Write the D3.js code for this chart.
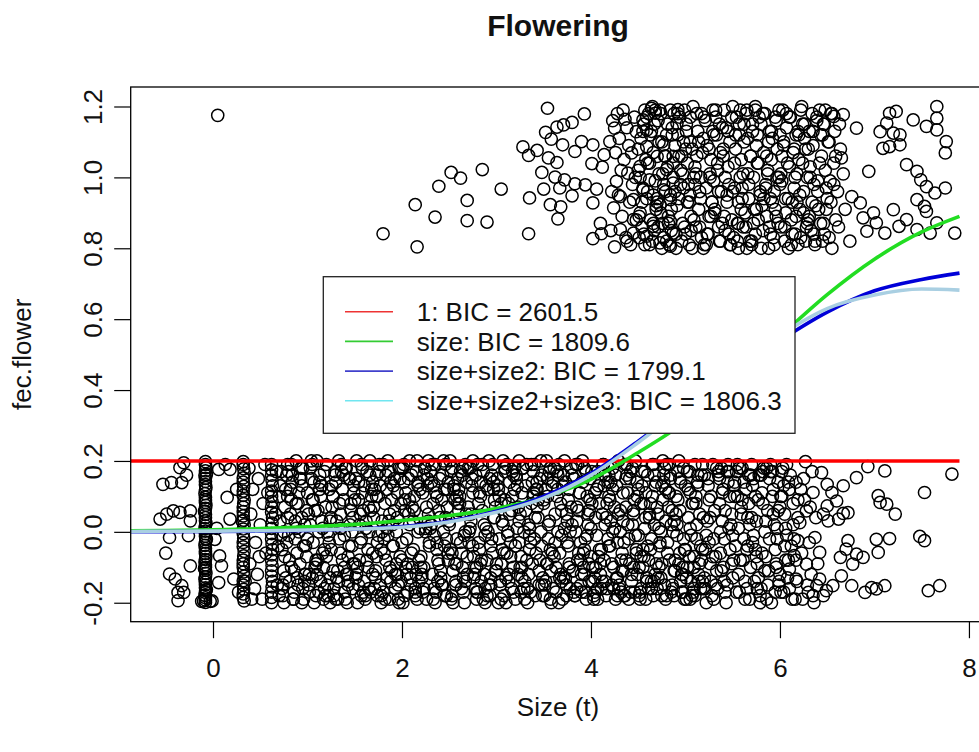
<!DOCTYPE html>
<html><head><meta charset="utf-8">
<script src="https://cdn.jsdelivr.net/npm/d3@7"></script>
<style>
body{margin:0;background:#fff;}
svg{display:block;font-family:"Liberation Sans",Arial,Helvetica,sans-serif;}
</style>
</head><body>
<svg id="chart" width="979" height="752"></svg>
<script>
// ---------------- DATA ----------------
const chartTitle = "Flowering";
const xLabel = "Size (t)";
const yLabel = "fec.flower";
const xTicks = [0, 2, 4, 6, 8];
const yTicks = [-0.2, 0.0, 0.2, 0.4, 0.6, 0.8, 1.0, 1.2];

const legendLabels = ["1: BIC = 2601.5", "size: BIC = 1809.6", "size+size2: BIC = 1799.1", "size+size2+size3: BIC = 1806.3"];

// fitted curves
const sizeGrid = [-1, -0.5, 0, 0.5, 1, 1.5, 2, 2.5, 3, 3.5, 4, 4.5, 5, 5.5, 6, 6.5, 7, 7.5, 7.9];
const fitIntercept = [0.2, 0.2, 0.2, 0.2, 0.2, 0.2, 0.2, 0.2, 0.2, 0.2, 0.2, 0.2, 0.2, 0.2, 0.2, 0.2, 0.2, 0.2, 0.2];
const fitSize = [0.003, 0.004, 0.006, 0.009, 0.014, 0.021, 0.032, 0.046, 0.066, 0.098, 0.148, 0.224, 0.311, 0.427, 0.551, 0.669, 0.769, 0.846, 0.89];
const fitSize2 = [0.0003, 0.0006, 0.001, 0.002, 0.004, 0.008, 0.015, 0.03, 0.058, 0.1, 0.165, 0.256, 0.355, 0.45, 0.54, 0.62, 0.68, 0.712, 0.73];
const fitSize3 = [0.001, 0.0015, 0.002, 0.003, 0.005, 0.008, 0.013, 0.028, 0.055, 0.095, 0.16, 0.252, 0.355, 0.46, 0.555, 0.63, 0.668, 0.685, 0.682];

// observations with fec.flower jittered around 0 : [size, fec.flower]
const notFlowered = [
[-0.31,0.195],[-0.35,0.181],[-0.53,0.134],[-0.44,0.139],[-0.33,0.139],[-0.56,0.036],[-0.49,0.05],[-0.42,0.059],[-0.35,0.055],[-0.24,0.059],[-0.24,0.031],[-0.46,-0.016],[-0.26,-0.011],[-0.24,-0.096],[-0.46,-0.119],[-0.4,-0.133],[-0.33,-0.152],[-0.31,-0.171],[-0.37,-0.194],[-0.37,-0.171],[-0.28,0.16],[-0.5,-0.06],
[-0.08,0.19],[-0.08,0.172],[-0.08,0.151],[-0.08,0.133],[-0.08,0.118],[-0.08,0.097],[-0.08,0.083],[-0.08,0.066],[-0.08,0.049],[-0.08,0.031],[-0.08,0.017],[-0.08,0.002],[-0.08,-0.012],[-0.08,-0.029],[-0.08,-0.047],[-0.08,-0.061],[-0.08,-0.078],[-0.08,-0.093],[-0.08,-0.108],[-0.08,-0.127],[-0.08,-0.142],[-0.08,-0.158],[-0.08,-0.171],[-0.08,-0.186],[-0.08,-0.199],[-0.07,0.162],[-0.09,0.058],[-0.07,-0.021],[-0.09,-0.104],[-0.07,-0.163],[-0.12,-0.196],[-0.03,-0.196],[-0.1,-0.195],[-0.01,-0.195],
[-0.08,0.198],[-0.075,0.181],[-0.085,0.16],[-0.08,0.142],[-0.075,0.125],[-0.085,0.108],[-0.08,0.09],[-0.075,0.075],[-0.085,0.058],[-0.08,0.04],[-0.075,0.024],[-0.085,0.009],[-0.08,-0.005],[-0.075,-0.02],[-0.085,-0.038],[-0.08,-0.054],[-0.075,-0.069],[-0.085,-0.085],[-0.08,-0.1],[-0.075,-0.117],[-0.085,-0.134],[-0.08,-0.149],[-0.075,-0.164],[-0.085,-0.179],[-0.08,-0.192],
[0.06,0.176],[0.15,0.097],[0.02,-0.021],[0.07,-0.068],[0.18,0.036],[0.22,-0.133],[0.04,0.01],[0.18,0.176],[0.13,0.19],[0.09,-0.096],[0.06,-0.143],[0.25,0.12],[0.27,-0.17],
[0.32,0.19],[0.33,0.165],[0.32,0.14],[0.32,0.115],[0.33,0.09],[0.32,0.07],[0.32,0.045],[0.33,0.02],[0.32,-0.005],[0.32,-0.03],[0.33,-0.055],[0.32,-0.08],[0.32,-0.1],[0.33,-0.125],[0.32,-0.15],[0.32,-0.175],[0.33,-0.195],[0.31,0.03],[0.34,-0.14],
[0.32,0.198],[0.325,0.178],[0.32,0.152],[0.325,0.128],[0.32,0.103],[0.325,0.08],[0.32,0.057],[0.325,0.033],[0.32,0.008],[0.325,-0.018],[0.32,-0.042],[0.325,-0.068],[0.32,-0.09],[0.325,-0.113],[0.32,-0.138],[0.325,-0.162],[0.32,-0.185],
[0.38,0.18],[0.42,0.12],[0.4,0.05],[0.45,-0.03],[0.39,-0.09],[0.44,-0.16],[0.48,0.15],[0.5,0.02],[0.47,-0.12],[0.53,0.08],[0.52,-0.19],[0.55,0.19],[0.56,-0.06],[0.41,-0.19],[0.58,0.11],[0.49,-0.07],
[0.62,0.19],[0.62,0.16],[0.63,0.13],[0.62,0.1],[0.62,0.07],[0.63,0.04],[0.62,0.01],[0.62,-0.02],[0.63,-0.05],[0.62,-0.08],[0.62,-0.11],[0.63,-0.14],[0.62,-0.17],[0.62,-0.2],[0.66,0.05],[0.68,-0.15],[0.67,0.17],[0.69,-0.04],
[0.62,0.175],[0.625,0.145],[0.62,0.115],[0.625,0.085],[0.62,0.055],[0.625,0.025],[0.62,-0.005],[0.625,-0.035],[0.62,-0.065],[0.625,-0.095],[0.62,-0.125],[0.625,-0.155],[0.62,-0.185],
[0.70,-0.18],[0.77,0.12],[0.73,-0.05],[0.79,0.19],[0.75,-0.11],[0.71,0.03],[0.78,0.16],[0.74,-0.15],[0.76,0.07],[0.72,-0.01],[0.75,-0.2],[0.79,0.1],
[0.84,0.14],[0.81,-0.08],[0.88,0.2],[0.86,-0.17],[0.82,0.05],[0.89,-0.13],[0.83,0.09],[0.87,-0.02],[0.80,0.17],[0.85,-0.19],[0.88,0.01],[0.83,-0.1],
[0.98,-0.04],[0.93,0.18],[0.95,-0.16],[0.90,0.08],[0.97,-0.12],[0.94,0.13],[0.99,-0.07],[0.91,0.0],[0.96,-0.19],[0.92,0.15],[0.94,0.04],[0.97,-0.14],
[1.00,0.11],[1.07,-0.2],[1.03,0.02],[1.09,-0.09],[1.05,0.19],[1.01,-0.15],[1.08,0.06],[1.04,0.15],[1.06,-0.03],[1.02,-0.12],[1.05,0.09],[1.09,-0.18],
[1.14,-0.14],[1.11,0.06],[1.18,0.17],[1.16,-0.06],[1.12,0.0],[1.19,-0.18],[1.13,0.12],[1.17,-0.1],[1.10,0.2],[1.15,0.03],[1.18,-0.16],[1.13,0.14],
[1.28,-0.18],[1.23,0.12],[1.25,-0.05],[1.20,0.19],[1.27,-0.11],[1.24,0.03],[1.29,0.16],[1.21,-0.15],[1.26,0.07],[1.22,-0.01],[1.24,-0.2],[1.27,0.1],
[1.30,0.14],[1.37,-0.08],[1.33,0.2],[1.39,-0.17],[1.35,0.05],[1.31,-0.13],[1.38,0.09],[1.34,-0.02],[1.36,0.17],[1.32,-0.19],[1.35,0.01],[1.39,-0.1],
[1.44,-0.04],[1.41,0.18],[1.48,-0.16],[1.46,0.08],[1.42,-0.12],[1.49,0.13],[1.43,-0.07],[1.47,0.0],[1.40,-0.19],[1.45,0.15],[1.48,0.04],[1.43,-0.14],
[1.58,0.11],[1.53,-0.2],[1.55,0.02],[1.50,-0.09],[1.57,0.19],[1.54,-0.15],[1.59,0.06],[1.51,0.15],[1.56,-0.03],[1.52,-0.12],[1.54,0.09],[1.57,-0.18],
[1.60,-0.14],[1.67,0.06],[1.63,0.17],[1.69,-0.06],[1.65,0.0],[1.61,-0.18],[1.68,0.12],[1.64,-0.1],[1.66,0.2],[1.62,0.03],[1.65,-0.16],[1.69,0.14],
[1.74,-0.18],[1.71,0.12],[1.78,-0.05],[1.76,0.19],[1.72,-0.11],[1.79,0.03],[1.73,0.16],[1.77,-0.15],[1.70,0.07],[1.75,-0.01],[1.78,-0.2],[1.73,0.1],
[1.88,0.14],[1.83,-0.08],[1.85,0.2],[1.80,-0.17],[1.87,0.05],[1.84,-0.13],[1.89,0.09],[1.81,-0.02],[1.86,0.17],[1.82,-0.19],[1.84,0.01],[1.87,-0.1],
[1.90,-0.04],[1.97,0.18],[1.93,-0.16],[1.99,0.08],[1.95,-0.12],[1.91,0.13],[1.98,-0.07],[1.94,0.0],[1.96,-0.19],[1.92,0.15],[1.95,0.04],[1.99,-0.14],
[2.04,0.11],[2.01,-0.2],[2.08,0.02],[2.06,-0.09],[2.02,0.19],[2.09,-0.15],[2.03,0.06],[2.07,0.15],[2.00,-0.03],[2.05,-0.12],[2.08,0.09],[2.03,-0.18],
[2.18,-0.14],[2.13,0.06],[2.15,0.17],[2.10,-0.06],[2.17,0.0],[2.14,-0.18],[2.19,0.12],[2.11,-0.1],[2.16,0.2],[2.12,0.03],[2.14,-0.16],[2.17,0.14],
[2.24,0.18],[2.21,-0.12],[2.28,0.05],[2.26,-0.19],[2.22,0.11],[2.29,-0.03],[2.23,-0.16],[2.27,0.15],[2.20,-0.07],[2.25,0.01],[2.28,0.2],[2.23,-0.1],
[2.38,-0.14],[2.33,0.08],[2.35,-0.2],[2.30,0.17],[2.37,-0.05],[2.34,0.13],[2.39,-0.09],[2.31,0.02],[2.36,-0.17],[2.32,0.19],[2.34,-0.01],[2.37,0.1],
[2.40,0.04],[2.47,-0.18],[2.43,0.16],[2.49,-0.08],[2.45,0.12],[2.41,-0.13],[2.48,0.07],[2.44,0.0],[2.46,0.19],[2.42,-0.15],[2.45,-0.04],[2.49,0.14],
[2.54,-0.11],[2.51,0.2],[2.58,-0.02],[2.56,0.09],[2.52,-0.19],[2.59,0.15],[2.53,-0.06],[2.57,-0.15],[2.50,0.03],[2.55,0.12],[2.58,-0.09],[2.53,0.18],
[2.68,0.14],[2.63,-0.06],[2.65,-0.17],[2.60,0.06],[2.67,0.0],[2.64,0.18],[2.69,-0.12],[2.61,0.1],[2.66,-0.2],[2.62,-0.03],[2.64,0.16],[2.67,-0.14],
[2.70,0.18],[2.77,-0.12],[2.73,0.05],[2.79,-0.19],[2.75,0.11],[2.71,-0.03],[2.78,-0.16],[2.74,0.15],[2.76,-0.07],[2.72,0.01],[2.75,0.2],[2.79,-0.1],
[2.84,-0.14],[2.81,0.08],[2.88,-0.2],[2.86,0.17],[2.82,-0.05],[2.89,0.13],[2.83,-0.09],[2.87,0.02],[2.80,-0.17],[2.85,0.19],[2.88,-0.01],[2.83,0.1],
[2.98,0.04],[2.93,-0.18],[2.95,0.16],[2.90,-0.08],[2.97,0.12],[2.94,-0.13],[2.99,0.07],[2.91,0.0],[2.96,0.19],[2.92,-0.15],[2.94,-0.04],[2.97,0.14],
[3.00,-0.11],[3.07,0.2],[3.03,-0.02],[3.09,0.09],[3.05,-0.19],[3.01,0.15],[3.08,-0.06],[3.04,-0.15],[3.06,0.03],[3.02,0.12],[3.05,-0.09],[3.09,0.18],
[3.14,0.14],[3.11,-0.06],[3.18,-0.17],[3.16,0.06],[3.12,0.0],[3.19,0.18],[3.13,-0.12],[3.17,0.1],[3.10,-0.2],[3.15,-0.03],[3.18,0.16],[3.13,-0.14],
[3.28,0.18],[3.23,-0.12],[3.25,0.05],[3.20,-0.19],[3.27,0.11],[3.24,-0.03],[3.29,-0.16],[3.21,0.15],[3.26,-0.07],[3.22,0.01],[3.24,0.2],[3.27,-0.1],
[3.30,-0.14],[3.37,0.08],[3.33,-0.2],[3.39,0.17],[3.35,-0.05],[3.31,0.13],[3.38,-0.09],[3.34,0.02],[3.36,-0.17],[3.32,0.19],[3.35,-0.01],[3.39,0.1],
[3.44,0.04],[3.41,-0.18],[3.48,0.16],[3.46,-0.08],[3.42,0.12],[3.49,-0.13],[3.43,0.07],[3.47,0.0],[3.40,0.19],[3.45,-0.15],[3.48,-0.04],[3.43,0.14],
[3.58,-0.11],[3.53,0.2],[3.55,-0.02],[3.50,0.09],[3.57,-0.19],[3.54,0.15],[3.59,-0.06],[3.51,-0.15],[3.56,0.03],[3.52,0.12],[3.54,-0.09],[3.57,0.18],
[3.60,0.14],[3.67,-0.06],[3.63,-0.17],[3.69,0.06],[3.65,0.0],[3.61,0.18],[3.68,-0.12],[3.64,0.1],[3.66,-0.2],[3.62,-0.03],[3.65,0.16],[3.69,-0.14],
[3.78,-0.16],[3.73,0.14],[3.75,-0.03],[3.70,-0.19],[3.77,-0.09],[3.74,0.05],[3.79,0.18],[3.71,-0.13],[3.76,0.09],[3.72,0.01],[3.74,-0.18],[3.77,0.12],
[3.80,0.16],[3.87,-0.06],[3.83,-0.18],[3.89,-0.15],[3.85,0.07],[3.81,-0.11],[3.88,0.11],[3.84,0.0],[3.86,0.19],[3.82,-0.17],[3.85,0.03],[3.89,-0.08],
[3.94,-0.02],[3.91,0.2],[3.98,-0.14],[3.96,0.1],[3.92,-0.1],[3.99,0.15],[3.93,-0.05],[3.97,0.02],[3.90,-0.17],[3.95,0.17],[3.98,0.06],[3.93,-0.12],
[4.08,0.13],[4.03,-0.18],[4.05,0.04],[4.00,-0.07],[4.07,-0.19],[4.04,-0.13],[4.09,0.08],[4.01,0.17],[4.06,-0.01],[4.02,-0.1],[4.04,0.11],[4.07,-0.16],
[4.10,-0.12],[4.17,0.08],[4.13,0.19],[4.19,-0.04],[4.15,0.02],[4.11,-0.16],[4.18,0.14],[4.14,-0.08],[4.16,-0.18],[4.12,0.05],[4.15,-0.14],[4.19,0.16],
[4.24,-0.16],[4.21,0.14],[4.28,-0.03],[4.26,-0.19],[4.22,-0.09],[4.29,0.05],[4.23,0.18],[4.27,-0.13],[4.20,0.09],[4.25,0.01],[4.28,-0.18],[4.23,0.12],
[4.38,0.16],[4.33,-0.06],[4.35,-0.18],[4.30,-0.15],[4.37,0.07],[4.34,-0.11],[4.39,0.11],[4.31,0.0],[4.36,0.19],[4.32,-0.17],[4.34,0.03],[4.37,-0.08],
[4.40,-0.02],[4.47,0.2],[4.43,-0.14],[4.49,0.1],[4.45,-0.1],[4.41,0.15],[4.48,-0.05],[4.44,0.02],[4.46,-0.17],[4.42,0.17],[4.45,0.06],[4.49,-0.12],
[4.54,0.13],[4.51,-0.18],[4.58,0.04],[4.56,-0.07],[4.52,-0.19],[4.59,-0.13],[4.53,0.08],[4.57,0.17],[4.50,-0.01],[4.55,-0.1],[4.58,0.11],[4.53,-0.16],
[4.68,-0.12],[4.63,0.08],[4.65,0.19],[4.60,-0.04],[4.67,0.02],[4.64,-0.16],[4.69,0.14],[4.61,-0.08],[4.66,-0.18],[4.62,0.05],[4.64,-0.14],[4.67,0.16],
[4.70,-0.16],[4.77,0.14],[4.73,-0.03],[4.79,-0.19],[4.75,-0.09],[4.71,0.05],[4.78,0.18],[4.74,-0.13],[4.76,0.09],[4.72,0.01],[4.75,-0.18],[4.79,0.12],
[4.84,0.16],[4.81,-0.06],[4.88,-0.18],[4.86,-0.15],[4.82,0.07],[4.89,-0.11],[4.83,0.11],[4.87,0.0],[4.80,0.19],[4.85,-0.17],[4.88,0.03],[4.83,-0.08],
[4.98,-0.02],[4.93,0.2],[4.95,-0.14],[4.90,0.1],[4.97,-0.1],[4.94,0.15],[4.99,-0.05],[4.91,0.02],[4.96,-0.17],[4.92,0.17],[4.94,0.06],[4.97,-0.12],
[5.00,0.13],[5.07,-0.18],[5.03,0.04],[5.09,-0.07],[5.05,-0.19],[5.01,-0.13],[5.08,0.08],[5.04,0.17],[5.06,-0.01],[5.02,-0.1],[5.05,0.11],[5.09,-0.16],
[5.14,-0.12],[5.11,0.08],[5.18,0.19],[5.16,-0.04],[5.12,0.02],[5.19,-0.16],[5.13,0.14],[5.17,-0.08],[5.10,-0.18],[5.15,0.05],[5.18,-0.14],[5.13,0.16],
[5.20,0.16],[5.27,-0.14],[5.23,0.03],[5.29,0.19],[5.25,0.09],[5.21,-0.05],[5.28,-0.18],[5.24,0.13],[5.26,-0.09],[5.22,-0.01],
[5.34,-0.16],[5.31,0.06],[5.38,0.18],[5.36,0.15],[5.32,-0.07],[5.39,0.11],[5.33,-0.11],[5.37,0.0],[5.30,-0.19],[5.35,0.17],
[5.48,0.02],[5.43,-0.2],[5.45,0.14],[5.40,-0.1],[5.47,0.1],[5.44,-0.15],[5.49,0.05],[5.41,-0.02],[5.46,0.17],[5.42,-0.17],
[5.50,-0.13],[5.57,0.18],[5.53,-0.04],[5.59,0.07],[5.55,0.19],[5.51,0.13],[5.58,-0.08],[5.54,-0.17],[5.56,0.01],[5.52,0.1],
[5.64,0.12],[5.61,-0.08],[5.68,-0.19],[5.66,0.04],[5.62,-0.02],[5.69,0.16],[5.63,-0.14],[5.67,0.08],[5.60,0.18],[5.65,-0.05],
[5.78,0.16],[5.73,-0.14],[5.75,0.03],[5.70,0.19],[5.77,0.09],[5.74,-0.05],[5.79,-0.18],[5.71,0.13],[5.76,-0.09],[5.72,-0.01],
[5.80,-0.16],[5.87,0.06],[5.83,0.18],[5.89,0.15],[5.85,-0.07],[5.81,0.11],[5.88,-0.11],[5.84,0.0],[5.86,-0.19],[5.82,0.17],
[5.94,0.02],[5.91,-0.2],[5.98,0.14],[5.96,-0.1],[5.92,0.1],[5.99,-0.15],[5.93,0.05],[5.97,-0.02],[5.90,0.17],[5.95,-0.17],
[6.08,-0.13],[6.03,0.18],[6.05,-0.04],[6.00,0.07],[6.07,0.19],[6.04,0.13],[6.09,-0.08],[6.01,-0.17],[6.06,0.01],[6.02,0.1],
[6.10,0.12],[6.17,-0.08],[6.13,-0.19],[6.19,0.04],[6.15,-0.02],[6.11,0.16],[6.18,-0.14],[6.14,0.08],
[0.72,0.17],[0.76,-0.07],[0.79,0.04],[0.74,-0.18],[0.70,0.1],[0.77,-0.13],[0.75,0.0],[0.71,0.13],[0.78,-0.03],[0.73,-0.16],
[0.86,-0.11],[0.83,0.19],[0.80,-0.01],[0.88,0.08],[0.85,-0.19],[0.82,0.12],[0.89,-0.06],[0.87,0.03],[0.84,0.16],[0.81,-0.14],
[0.99,0.06],[0.90,-0.15],[0.95,0.18],[0.92,-0.09],[0.97,0.02],[0.94,-0.2],[0.91,0.11],[0.96,-0.04],[0.93,0.15],[0.98,-0.12],
[1.02,-0.17],[1.06,0.09],[1.09,-0.08],[1.04,0.2],[1.00,-0.02],[1.07,0.14],[1.05,-0.13],[1.01,0.05],[1.08,-0.1],[1.03,0.18],
[1.16,0.01],[1.13,0.16],[1.10,-0.12],[1.18,-0.05],[1.15,0.13],[1.12,-0.17],[1.19,0.07],[1.17,-0.19],[1.14,0.1],[1.11,-0.08],
[1.29,0.17],[1.20,-0.07],[1.25,0.04],[1.22,-0.18],[1.27,0.1],[1.24,-0.13],[1.21,0.0],[1.26,0.13],[1.23,-0.03],[1.28,-0.16],
[1.32,-0.11],[1.36,0.19],[1.39,-0.01],[1.34,0.08],[1.30,-0.19],[1.37,0.12],[1.35,-0.06],[1.31,0.03],[1.38,0.16],[1.33,-0.14],
[1.46,0.06],[1.43,-0.15],[1.40,0.18],[1.48,-0.09],[1.45,0.02],[1.42,-0.2],[1.49,0.11],[1.47,-0.04],[1.44,0.15],[1.41,-0.12],
[1.59,-0.17],[1.50,0.09],[1.55,-0.08],[1.52,0.2],[1.57,-0.02],[1.54,0.14],[1.51,-0.13],[1.56,0.05],[1.53,-0.1],[1.58,0.18],
[1.62,0.01],[1.66,0.16],[1.69,-0.12],[1.64,-0.05],[1.60,0.13],[1.67,-0.17],[1.65,0.07],[1.61,-0.19],[1.68,0.1],[1.63,-0.08],
[1.76,0.17],[1.73,-0.07],[1.70,0.04],[1.78,-0.18],[1.75,0.1],[1.72,-0.13],[1.79,0.0],[1.77,0.13],[1.74,-0.03],[1.71,-0.16],
[1.89,-0.11],[1.80,0.19],[1.85,-0.01],[1.82,0.08],[1.87,-0.19],[1.84,0.12],[1.81,-0.06],[1.86,0.03],[1.83,0.16],[1.88,-0.14],
[1.92,0.06],[1.96,-0.15],[1.99,0.18],[1.94,-0.09],[1.90,0.02],[1.97,-0.2],[1.95,0.11],[1.91,-0.04],[1.98,0.15],[1.93,-0.12],
[2.06,-0.17],[2.03,0.09],[2.00,-0.08],[2.08,0.2],[2.05,-0.02],[2.02,0.14],[2.09,-0.13],[2.07,0.05],[2.04,-0.1],[2.01,0.18],
[2.19,0.01],[2.10,0.16],[2.15,-0.12],[2.12,-0.05],[2.17,0.13],[2.14,-0.17],[2.11,0.07],[2.16,-0.19],[2.13,0.1],[2.18,-0.08],
[2.22,-0.17],[2.26,0.07],[2.29,-0.04],[2.24,0.18],[2.20,-0.1],[2.27,0.13],[2.25,0.0],[2.21,-0.13],[2.28,0.03],[2.23,0.16],
[2.36,0.11],[2.33,-0.19],[2.30,0.01],[2.38,-0.08],[2.35,0.19],[2.32,-0.12],[2.39,0.06],[2.37,-0.03],[2.34,-0.16],[2.31,0.14],
[2.49,-0.06],[2.40,0.15],[2.45,-0.18],[2.42,0.09],[2.47,-0.02],[2.44,0.2],[2.41,-0.11],[2.46,0.04],[2.43,-0.15],[2.48,0.12],
[2.52,0.17],[2.56,-0.09],[2.59,0.08],[2.54,-0.2],[2.50,0.02],[2.57,-0.14],[2.55,0.13],[2.51,-0.05],[2.58,0.1],[2.53,-0.18],
[2.66,-0.01],[2.63,-0.16],[2.60,0.12],[2.68,0.05],[2.65,-0.13],[2.62,0.17],[2.69,-0.07],[2.67,0.19],[2.64,-0.1],[2.61,0.08],
[2.79,-0.17],[2.70,0.07],[2.75,-0.04],[2.72,0.18],[2.77,-0.1],[2.74,0.13],[2.71,0.0],[2.76,-0.13],[2.73,0.03],[2.78,0.16],
[2.82,0.11],[2.86,-0.19],[2.89,0.01],[2.84,-0.08],[2.80,0.19],[2.87,-0.12],[2.85,0.06],[2.81,-0.03],[2.88,-0.16],[2.83,0.14],
[2.96,-0.06],[2.93,0.15],[2.90,-0.18],[2.98,0.09],[2.95,-0.02],[2.92,0.2],[2.99,-0.11],[2.97,0.04],[2.94,-0.15],[2.91,0.12],
[3.09,0.17],[3.00,-0.09],[3.05,0.08],[3.02,-0.2],[3.07,0.02],[3.04,-0.14],[3.01,0.13],[3.06,-0.05],[3.03,0.1],[3.08,-0.18],
[3.12,-0.01],[3.16,-0.16],[3.19,0.12],[3.14,0.05],[3.10,-0.13],[3.17,0.17],[3.15,-0.07],[3.11,0.19],[3.18,-0.1],[3.13,0.08],
[3.26,-0.17],[3.23,0.07],[3.20,-0.04],[3.28,0.18],[3.25,-0.1],[3.22,0.13],[3.29,0.0],[3.27,-0.13],[3.24,0.03],[3.21,0.16],
[3.39,0.11],[3.30,-0.19],[3.35,0.01],[3.32,-0.08],[3.37,0.19],[3.34,-0.12],[3.31,0.06],[3.36,-0.03],[3.33,-0.16],[3.38,0.14],
[3.42,-0.06],[3.46,0.15],[3.49,-0.18],[3.44,0.09],[3.40,-0.02],[3.47,0.2],[3.45,-0.11],[3.41,0.04],[3.48,-0.15],[3.43,0.12],
[3.56,0.17],[3.53,-0.09],[3.50,0.08],[3.58,-0.2],[3.55,0.02],[3.52,-0.14],[3.59,0.13],[3.57,-0.05],[3.54,0.1],[3.51,-0.18],
[3.69,-0.01],[3.60,-0.16],[3.65,0.12],[3.62,0.05],[3.67,-0.13],[3.64,0.17],[3.61,-0.07],[3.66,0.19],[3.63,-0.1],[3.68,0.08],
[3.72,0.2],[3.76,-0.04],[3.79,0.07],[3.74,-0.15],[3.70,0.13],[3.77,-0.1],[3.75,0.03],[3.71,0.16],[3.78,0.0],[3.73,-0.13],
[3.86,-0.08],[3.83,-0.18],[3.80,0.02],[3.88,0.11],[3.85,-0.16],[3.82,0.15],[3.89,-0.03],[3.87,0.06],[3.84,0.19],[3.81,-0.11],
[3.99,0.09],[3.90,-0.12],[3.95,-0.19],[3.92,-0.06],[3.97,0.05],[3.94,-0.17],[3.91,0.14],[3.96,-0.01],[3.93,0.18],[3.98,-0.09],
[4.02,-0.14],[4.06,0.12],[4.09,-0.05],[4.04,-0.17],[4.00,0.01],[4.07,0.17],[4.05,-0.1],[4.01,0.08],[4.08,-0.07],[4.03,-0.19],
[4.16,0.04],[4.13,0.19],[4.10,-0.09],[4.18,-0.02],[4.15,0.16],[4.12,-0.14],[4.19,0.1],[4.17,-0.16],[4.14,0.13],[4.11,-0.05],
[4.29,0.2],[4.20,-0.04],[4.25,0.07],[4.22,-0.15],[4.27,0.13],[4.24,-0.1],[4.21,0.03],[4.26,0.16],[4.23,0.0],[4.28,-0.13],
[4.32,-0.08],[4.36,-0.18],[4.39,0.02],[4.34,0.11],[4.30,-0.16],[4.37,0.15],[4.35,-0.03],[4.31,0.06],[4.38,0.19],[4.33,-0.11],
[4.46,0.09],[4.43,-0.12],[4.40,-0.19],[4.48,-0.06],[4.45,0.05],[4.42,-0.17],[4.49,0.14],[4.47,-0.01],[4.44,0.18],[4.41,-0.09],
[4.59,-0.14],[4.50,0.12],[4.55,-0.05],[4.52,-0.17],[4.57,0.01],[4.54,0.17],[4.51,-0.1],[4.56,0.08],[4.53,-0.07],[4.58,-0.19],
[4.62,0.04],[4.66,0.19],[4.69,-0.09],[4.64,-0.02],[4.60,0.16],[4.67,-0.14],[4.65,0.1],[4.61,-0.16],[4.68,0.13],[4.63,-0.05],
[4.76,0.2],[4.73,-0.04],[4.70,0.07],[4.78,-0.15],[4.75,0.13],[4.72,-0.1],[4.79,0.03],[4.77,0.16],[4.74,0.0],[4.71,-0.13],
[4.89,-0.08],[4.80,-0.18],[4.85,0.02],[4.82,0.11],[4.87,-0.16],[4.84,0.15],[4.81,-0.03],[4.86,0.06],[4.83,0.19],[4.88,-0.11],
[4.92,0.09],[4.96,-0.12],[4.99,-0.19],[4.94,-0.06],[4.90,0.05],[4.97,-0.17],[4.95,0.14],[4.91,-0.01],[4.98,0.18],[4.93,-0.09],
[5.06,-0.14],[5.03,0.12],[5.00,-0.05],[5.08,-0.17],[5.05,0.01],[5.02,0.17],[5.09,-0.1],[5.07,0.08],[5.04,-0.07],[5.01,-0.19],
[5.19,0.04],[5.10,0.19],[5.15,-0.09],[5.12,-0.02],[5.17,0.16],[5.14,-0.14],[5.11,0.1],[5.16,-0.16],[5.13,0.13],[5.18,-0.05],
[5.22,-0.2],[5.26,0.04],[5.29,-0.07],[5.24,0.15],[5.20,-0.13],[5.27,0.1],[5.25,-0.03],[5.21,-0.16],
[5.36,0.08],[5.33,0.18],[5.30,-0.02],[5.38,-0.11],[5.35,0.16],[5.32,-0.15],[5.39,0.03],[5.37,-0.06],
[5.49,-0.09],[5.40,0.12],[5.45,0.19],[5.42,0.06],[5.47,-0.05],[5.44,0.17],[5.41,-0.14],[5.46,0.01],
[5.52,0.14],[5.56,-0.12],[5.59,0.05],[5.54,0.17],[5.50,-0.01],[5.57,-0.17],[5.55,0.1],[5.51,-0.08],
[5.66,-0.04],[5.63,-0.19],[5.60,0.09],[5.68,0.02],[5.65,-0.16],[5.62,0.14],[5.69,-0.1],[5.67,0.16],
[5.79,-0.2],[5.70,0.04],[5.75,-0.07],[5.72,0.15],[5.77,-0.13],[5.74,0.1],[5.71,-0.03],[5.76,-0.16],
[5.82,0.08],[5.86,0.18],[5.89,-0.02],[5.84,-0.11],[5.80,0.16],[5.87,-0.15],[5.85,0.03],[5.81,-0.06],
[5.96,-0.09],[5.93,0.12],[5.90,0.19],[5.98,0.06],[5.95,-0.05],[5.92,0.17],[5.99,-0.14],[5.97,0.01],
[6.09,0.14],[6.00,-0.12],[6.05,0.05],[6.02,0.17],[6.07,-0.01],[6.04,-0.17],[6.01,0.1],[6.06,-0.08],
[6.12,-0.04],[6.16,-0.19],[6.19,0.09],[6.14,0.02],[6.10,-0.16],[6.17,0.14],
[6.93,0.184],[7.11,0.172],[6.81,0.153],[6.67,0.13],[7.82,0.163],[7.53,0.111],[7.04,0.102],[7.06,0.083],[7.13,0.078],[7.22,0.05],[6.72,0.054],[6.62,0.036],
[7.02,-0.021],[7.16,-0.019],[7.48,-0.013],[7.53,-0.025],[7.04,-0.058],[6.72,-0.025],[6.7,-0.049],[6.81,-0.063],[6.88,-0.072],[6.77,-0.091],[6.65,-0.124],[6.64,-0.072],
[6.76,-0.152],[6.9,-0.171],[6.97,-0.157],[7.11,-0.152],[7.02,-0.161],[7.57,-0.166],[7.69,-0.152],[6.56,-0.152],[6.49,-0.166],[6.39,-0.152],[6.35,-0.18],[6.46,-0.18],
[6.42,-0.133],[6.3,-0.171],[6.51,0.031],[6.5,0.073],[6.46,0.05],[6.55,0.111],[6.6,0.087],[6.67,0.052],[6.37,-0.016],[6.42,-0.058],[6.28,-0.091],[6.27,0.198],
[6.44,0.167],[6.5,0.134],[6.35,0.111],[6.28,0.059],[6.21,0.026],[6.19,-0.025],[6.15,-0.067],[6.17,-0.133],[6.1,-0.105],[6.25,0.15],[6.33,-0.12],[6.24,-0.19],
[6.23,-0.06],[6.26,0.09],[6.31,-0.03],[6.34,0.17],[6.22,0.12],[6.29,-0.15],[6.38,0.04],[6.4,-0.09],[6.32,0.07],[6.36,-0.2]
];

// observations with fec.flower jittered around 1 : [size, fec.flower]
const flowered = [
[0.05,1.175],
[1.80,0.841],[2.16,0.804],[2.14,0.923],[2.35,0.888],[2.39,0.975],[2.52,1.014],[2.62,0.998],[2.69,0.935],[2.69,0.878],[2.90,0.874],[2.85,1.022],[3.05,0.967],
[3.34,0.841],[3.35,0.942],[3.28,1.086],[3.43,1.076],[3.34,1.062],[3.54,1.195],[3.52,1.127],[3.64,1.142],[3.71,1.148],[3.80,1.155],[3.93,1.179],[3.58,1.108],
[3.70,1.092],[3.83,1.073],[3.90,1.101],[4.02,1.092],[3.55,1.055],[3.64,1.042],[3.48,1.014],[3.50,0.967],[3.62,1.001],[3.67,0.970],[3.80,0.948],[3.83,0.982],
[3.94,0.979],[4.06,0.967],[3.72,0.993],[3.57,0.923],[3.68,0.917],[3.65,0.883],[4.02,0.928],[4.10,0.870],[4.02,0.827],[4.11,0.841],[4.01,1.039],[4.12,1.029],
[4.20,1.101],[4.14,1.064],[4.25,1.139],[4.36,1.164],[4.27,0.989],[4.24,0.914],[4.25,0.804],[4.31,0.853],[4.38,0.820],[4.31,0.946],[4.39,1.012],[4.43,1.069],
[4.48,1.129],[4.59,1.134],[4.64,1.195],[4.68,1.181],[4.55,1.162],[4.52,1.031],[4.59,1.087],[4.62,0.993],[4.55,0.965],[4.45,0.937],[4.45,0.881],[4.45,0.843],
[4.59,0.834],[4.66,0.862],[4.73,0.815],[4.84,0.806],[4.70,1.059],[4.77,1.092],[4.80,1.022],[4.77,0.965],[4.73,0.923],[4.84,0.937],[4.87,0.984],[4.87,1.059],
[4.84,0.876],[4.87,0.843],[4.91,1.153],[4.92,1.191],
[4.22,0.96],[4.28,1.18],[4.33,0.89],[4.35,1.05],[4.41,0.93],[4.46,1.17],[4.47,1.0],[4.42,0.81],[4.3,1.11],[4.38,1.14],
[4.21,0.85],[4.26,1.07],[4.29,0.95],[4.34,1.19],[4.37,0.83],[4.4,1.09],[4.44,0.98],[4.48,0.88],[4.23,1.16],[4.32,1.02],
[4.51,0.83],[4.53,1.11],[4.55,0.97],[4.57,1.19],[4.52,0.9],[4.58,1.05],[4.54,0.86],[4.56,1.15],[4.59,0.94],[4.5,1.02],
[4.61,1.18],[4.63,0.88],[4.66,1.07],[4.62,0.81],[4.68,0.99],[4.64,1.13],[4.69,0.92],[4.65,1.2],[4.67,0.85],[4.6,1.04],[4.66,0.95],
[4.71,1.16],[4.74,0.9],[4.72,1.01],[4.77,0.83],[4.75,1.1],[4.79,0.96],[4.73,1.19],[4.78,1.06],[4.76,0.87],[4.7,0.93],
[4.81,1.03],[4.83,0.81],[4.86,1.14],[4.84,0.95],[4.88,1.18],[4.82,0.89],[4.87,1.0],[4.85,0.85],[4.89,1.09],[4.8,1.12],
[4.91,0.92],[4.93,1.06],[4.96,0.82],[4.94,1.17],[4.98,0.97],[4.92,1.12],[4.97,0.87],[4.95,1.02],[4.99,1.19],[4.9,0.84],
[5.01,1.15],[5.04,0.93],[5.02,1.04],[5.07,0.8],[5.05,1.1],[5.09,0.88],[5.03,0.98],[5.08,1.2],[5.06,0.85],[5.0,1.08],[5.05,0.95],
[5.11,0.86],[5.13,1.13],[5.16,1.0],[5.14,0.91],[5.18,1.07],[5.12,1.18],[5.17,0.83],[5.15,0.96],[5.19,1.11],[5.1,1.03],
[5.21,1.16],[5.24,0.84],[5.22,0.97],[5.27,1.05],[5.25,0.89],[5.29,1.19],[5.23,1.09],[5.28,0.93],[5.26,1.01],[5.2,0.81],
[5.31,0.9],[5.33,1.12],[5.36,0.82],[5.34,1.02],[5.38,0.96],[5.32,1.17],[5.37,1.07],[5.35,0.86],[5.39,1.14],[5.3,0.99],
[5.41,1.19],[5.44,0.95],[5.42,0.85],[5.47,1.1],[5.45,1.03],[5.49,0.88],[5.43,1.14],[5.48,0.81],[5.46,0.98],[5.4,1.06],
[5.51,0.83],[5.53,1.08],[5.56,0.93],[5.54,1.17],[5.58,1.0],[5.52,0.97],[5.57,1.12],[5.55,0.87],[5.59,1.05],[5.5,1.2],[5.56,0.8],
[5.61,1.01],[5.64,0.86],[5.62,1.15],[5.67,0.94],[5.65,1.19],[5.69,1.06],[5.63,0.9],[5.68,0.82],[5.66,1.11],[5.6,0.97],
[5.71,1.13],[5.73,0.91],[5.76,1.04],[5.74,0.84],[5.78,1.17],[5.72,1.0],[5.77,0.88],[5.75,1.09],[5.79,0.95],[5.7,0.81],[5.74,1.2],
[5.81,0.92],[5.84,1.18],[5.82,0.85],[5.87,1.02],[5.85,0.97],[5.89,1.13],[5.83,1.07],[5.88,0.8],[5.86,0.89],[5.8,1.15],
[5.91,1.05],[5.93,0.83],[5.96,1.16],[5.94,0.96],[5.98,0.87],[5.92,1.11],[5.97,1.0],[5.95,0.91],[5.99,1.19],[5.9,0.94],
[6.01,0.86],[6.04,1.09],[6.02,0.99],[6.07,1.14],[6.05,0.82],[6.09,0.94],[6.03,1.19],[6.08,1.04],[6.06,0.9],[6.0,1.12],
[6.11,1.17],[6.13,0.93],[6.16,0.84],[6.14,1.07],[6.18,1.01],[6.12,0.88],[6.17,1.12],[6.15,0.97],[6.19,0.81],[6.1,1.03],
[6.21,0.95],[6.24,1.15],[6.22,0.83],[6.27,1.08],[6.25,0.9],[6.29,1.0],[6.23,1.2],[6.28,0.86],[6.26,1.11],[6.2,1.05],
[6.31,1.13],[6.33,0.85],[6.36,0.98],[6.34,1.18],[6.38,0.92],[6.32,1.03],[6.37,0.82],[6.35,1.09],[6.39,1.16],[6.3,0.88],
[6.41,0.91],[6.44,1.06],[6.42,1.19],[6.47,0.84],[6.45,1.12],[6.49,0.97],[6.43,0.87],[6.48,1.02],[6.46,1.15],[6.4,0.99],
[6.51,1.1],[6.54,0.93],[6.52,0.83],[6.57,1.04],[6.55,1.18],[6.59,0.88],[6.53,0.99],[6.58,1.13],
[6.61,0.96],[6.64,1.08],[6.62,0.86],[6.67,1.01],[6.69,0.91],[6.63,1.15],
[4.52,1.0],[4.56,0.84],[4.59,1.17],[4.54,0.93],[4.50,1.08],[4.57,0.81],[4.55,1.13],[4.51,0.89],
[4.66,0.87],[4.63,1.12],[4.60,0.96],[4.68,1.19],[4.65,0.82],[4.62,1.04],[4.69,0.91],[4.67,1.15],
[4.79,1.06],[4.70,0.94],[4.75,0.8],[4.72,1.1],[4.77,0.98],[4.74,1.18],[4.71,0.86],[4.76,1.01],
[4.82,0.87],[4.86,1.12],[4.89,0.96],[4.84,1.19],[4.80,0.82],[4.87,1.04],[4.85,0.91],[4.81,1.15],
[4.96,1.06],[4.93,0.94],[4.90,0.8],[4.98,1.1],[4.95,0.98],[4.92,1.18],[4.99,0.86],[4.97,1.01],
[5.09,1.0],[5.00,0.84],[5.05,1.17],[5.02,0.93],[5.07,1.08],[5.04,0.81],[5.01,1.13],[5.06,0.89],
[5.12,1.06],[5.16,0.94],[5.19,0.8],[5.14,1.1],[5.10,0.98],[5.17,1.18],[5.15,0.86],[5.11,1.01],
[5.26,1.0],[5.23,0.84],[5.20,1.17],[5.28,0.93],[5.25,1.08],[5.22,0.81],[5.29,1.13],[5.27,0.89],
[5.39,0.87],[5.30,1.12],[5.35,0.96],[5.32,1.19],[5.37,0.82],[5.34,1.04],[5.31,0.91],[5.36,1.15],
[5.42,1.0],[5.46,0.84],[5.49,1.17],[5.44,0.93],[5.40,1.08],[5.47,0.81],[5.45,1.13],[5.41,0.89],
[5.56,0.87],[5.53,1.12],[5.50,0.96],[5.58,1.19],[5.55,0.82],[5.52,1.04],[5.59,0.91],[5.57,1.15],
[5.69,1.06],[5.60,0.94],[5.65,0.8],[5.62,1.1],[5.67,0.98],[5.64,1.18],[5.61,0.86],[5.66,1.01],
[5.72,0.87],[5.76,1.12],[5.79,0.96],[5.74,1.19],[5.70,0.82],[5.77,1.04],[5.75,0.91],[5.71,1.15],
[5.86,1.06],[5.83,0.94],[5.80,0.8],[5.88,1.1],[5.85,0.98],[5.82,1.18],[5.89,0.86],[5.87,1.01],
[5.99,1.0],[5.90,0.84],[5.95,1.17],[5.92,0.93],[5.97,1.08],[5.94,0.81],[5.91,1.13],[5.96,0.89],
[6.02,1.06],[6.06,0.94],[6.09,0.8],[6.04,1.1],[6.00,0.98],[6.07,1.18],[6.05,0.86],[6.01,1.01],
[6.16,1.0],[6.13,0.84],[6.10,1.17],[6.18,0.93],[6.15,1.08],[6.12,0.81],[6.19,1.13],[6.17,0.89],
[6.29,0.87],[6.20,1.12],[6.25,0.96],[6.22,1.19],[6.27,0.82],[6.24,1.04],[6.21,0.91],[6.26,1.15],
[6.32,1.0],[6.36,0.84],[6.39,1.17],[6.34,0.93],[6.30,1.08],[6.37,0.81],[6.35,1.13],[6.31,0.89],
[6.46,0.87],[6.43,1.12],[6.40,0.96],[6.48,1.19],[6.45,0.82],[6.42,1.04],[6.49,0.91],[6.47,1.15],
[6.59,1.06],[6.50,0.94],[6.55,0.8],[6.52,1.1],[6.57,0.98],[6.54,1.18],
[6.81,1.139],[6.94,1.017],[7.06,1.129],[7.13,1.153],[7.16,1.181],[7.23,1.186],[7.20,1.125],[7.27,1.120],[7.09,1.082],[7.16,1.087],[7.27,1.092],
[7.41,1.162],[7.55,1.144],[7.66,1.200],[7.66,1.167],[7.66,1.134],[7.76,1.101],[7.75,1.069],[7.34,1.036],[7.45,1.017],[7.49,0.993],[7.55,0.974],
[7.64,0.956],[7.75,0.970],[7.45,0.937],[7.53,0.918],[7.55,0.904],[7.66,0.872],[7.59,0.843],[7.45,0.853],[7.85,0.843],[7.34,0.881],[7.26,0.862],
[7.20,0.909],[7.02,0.872],[6.99,0.900],[6.88,0.886],[6.92,0.848],[7.11,0.843],[6.85,0.928],[6.76,0.946],[6.74,0.820],[6.65,1.055],[6.67,1.177],[6.57,1.172]
];

// ---------------- DRAWING ----------------
const svg = d3.select("#chart");
const M = {left: 130.7, right: 985, top: 87, bottom: 621.7};
const x = d3.scaleLinear().domain([-0.871, 8.17]).range([M.left, M.right]);
const y = d3.scaleLinear().domain([-0.2535, 1.255]).range([M.bottom, M.top]);
const FS = 26;
const ink = "#111";

svg.append("rect").attr("width", 979).attr("height", 752).attr("fill", "#fff");

svg.append("defs").append("clipPath").attr("id", "plotclip")
  .append("rect").attr("x", M.left).attr("y", M.top)
  .attr("width", M.right - M.left).attr("height", M.bottom - M.top);

// points
const pts = svg.append("g").attr("clip-path", "url(#plotclip)");
pts.selectAll("circle.p0").data(notFlowered).join("circle").attr("class", "p0")
  .attr("cx", d => x(d[0])).attr("cy", d => y(d[1])).attr("r", 6.1)
  .attr("fill", "none").attr("stroke", "#000").attr("stroke-width", 1.5);
pts.selectAll("circle.p1").data(flowered).join("circle").attr("class", "p1")
  .attr("cx", d => x(d[0])).attr("cy", d => y(d[1])).attr("r", 6.1)
  .attr("fill", "none").attr("stroke", "#000").attr("stroke-width", 1.5);

// curves
const curveColors = ["#ff0000", "#22dd22", "#0000d8", "#a9cfe2"];
const fits = [fitIntercept, fitSize, fitSize2, fitSize3];
const line = d3.line().x((d, i) => x(sizeGrid[i])).y(d => y(d)).curve(d3.curveMonotoneX);
const cg = svg.append("g").attr("clip-path", "url(#plotclip)");
fits.forEach((f, k) => {
  cg.append("path").datum(f).attr("d", line).attr("fill", "none")
    .attr("stroke", curveColors[k]).attr("stroke-width", 3.6).attr("stroke-linecap", "butt");
});

// box
svg.append("rect").attr("x", M.left).attr("y", M.top)
  .attr("width", M.right - M.left).attr("height", M.bottom - M.top)
  .attr("fill", "none").attr("stroke", "#000").attr("stroke-width", 1.3);

// x axis
const gx = svg.append("g").attr("transform", `translate(0,${M.bottom})`)
  .call(d3.axisBottom(x).tickValues(xTicks).tickSize(16.5).tickSizeOuter(0).tickFormat(d3.format("d")));
gx.select(".domain").remove();
gx.selectAll(".tick line").attr("stroke", "#000").attr("stroke-width", 1.2);
gx.selectAll(".tick text").attr("y", 55).attr("dy", 0)
  .attr("fill", ink).style("font-size", FS + "px").style("font-family", "'Liberation Sans',Arial,sans-serif");

// y axis
const gy = svg.append("g").attr("transform", `translate(${M.left},0)`)
  .call(d3.axisLeft(y).tickValues(yTicks).tickSize(16.5).tickSizeOuter(0).tickFormat(d => d.toFixed(1)));
gy.select(".domain").remove();
gy.selectAll(".tick line").attr("stroke", "#000").attr("stroke-width", 1.2);
gy.selectAll(".tick text").attr("transform", "rotate(-90)").attr("x", 0).attr("y", -28.5).attr("dy", 0)
  .attr("text-anchor", "middle").attr("fill", ink)
  .style("font-size", FS + "px").style("font-family", "'Liberation Sans',Arial,sans-serif");

// title & labels
svg.append("text").attr("x", 558).attr("y", 36).attr("text-anchor", "middle")
  .attr("font-weight", "bold").attr("font-size", 30).attr("fill", ink).text(chartTitle);
svg.append("text").attr("x", 558).attr("y", 716).attr("text-anchor", "middle")
  .attr("font-size", FS).attr("fill", ink).text(xLabel);
svg.append("text").attr("transform", `translate(31,${(M.top + M.bottom) / 2}) rotate(-90)`)
  .attr("text-anchor", "middle").attr("font-size", FS).attr("fill", ink).text(yLabel);

// legend
const legendLineColors = ["#ee3333", "#33cc33", "#4040cc", "#70e6f0"];
const lg = svg.append("g");
lg.append("rect").attr("x", 323.3).attr("y", 276.7).attr("width", 471.7).attr("height", 156.6)
  .attr("fill", "#fff").attr("stroke", "#222").attr("stroke-width", 1.3);
legendLabels.forEach((lab, i) => {
  const cy = 311.7 + i * 29.7;
  lg.append("line").attr("x1", 345).attr("x2", 393).attr("y1", cy).attr("y2", cy)
    .attr("stroke", legendLineColors[i]).attr("stroke-width", 1.6);
  lg.append("text").attr("x", 416.7).attr("y", cy + 9.3).attr("font-size", FS).attr("fill", ink).text(lab);
});
</script>
</body></html>
